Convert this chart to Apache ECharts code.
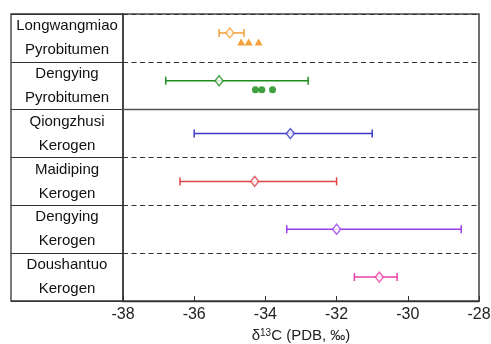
<!DOCTYPE html>
<html>
<head>
<meta charset="utf-8">
<script src="https://cdn.jsdelivr.net/npm/echarts@6/dist/echarts.min.js"></script>
<style>html,body{margin:0;padding:0;background:#fff;}#c{width:491px;height:344px;}</style>
</head>
<body>
<div id="c"></div>
<script>
// ---- data ----
const categories = ['Longwangmiao\nPyrobitumen', 'Dengying\nPyrobitumen', 'Qiongzhusi\nKerogen', 'Maidiping\nKerogen', 'Dengying\nKerogen', 'Doushantuo\nKerogen'];
const meanValues = [-35.0, -35.3, -33.3, -34.3, -32.0, -30.8];
const lowValues  = [-35.3, -36.8, -36.0, -36.4, -33.4, -31.5];
const highValues = [-34.6, -32.8, -31.0, -32.0, -28.5, -30.3];
const longwangmiaoSamples = [-34.68, -34.47, -34.19];
const dengyingSamples = [-34.28, -34.1, -33.8];
const xTicks = [-38, -36, -34, -32, -30, -28];
const pyrobitumenRows = 2;

// ---- styles ----
const colors = ['#F4A03A', '#1E8C1E', '#3B3BC8', '#E04444', '#9A3DEE', '#E840A8'];
const barOffsets = [-5, -5, 0, 0, 0, 0];
const triangleColor = '#F28A0C';
const dotColor = '#118A11';
const FONT = 'Liberation Sans, Arial, sans-serif';

const chart = echarts.init(document.getElementById('c'), null, {renderer: 'canvas'});

const barData = categories.map((c, i) => [i, lowValues[i], highValues[i]]);
const meanData = categories.map((c, i) => ({
  value: [meanValues[i], i],
  symbolOffset: [0, barOffsets[i]],
  itemStyle: {color: '#fff', borderColor: colors[i], borderWidth: 1.5}
}));

chart.setOption({
  animation: false,
  grid: [
    {left: 123, top: 14, right: 12, bottom: 43, show: true, containLabel: false, outerBoundsMode: 'none', borderColor: '#4a4a4a', borderWidth: 1.6, backgroundColor: 'transparent'},
    {left: 11, top: 14, width: 112, height: 287, show: true, containLabel: false, outerBoundsMode: 'none', borderColor: '#333', borderWidth: 1.3, backgroundColor: 'transparent'}
  ],
  xAxis: [
    {
      type: 'value', gridIndex: 0, position: 'bottom', min: xTicks[0], max: xTicks[xTicks.length - 1], interval: 2,
      axisLine: {show: true, onZero: false, lineStyle: {color: '#333', width: 1.3}},
      axisTick: {show: true, inside: true, length: 5, lineStyle: {color: '#333'}},
      axisLabel: {fontSize: 16, color: '#222', fontFamily: FONT, margin: 6},
      splitLine: {show: false},
      name: '{d|δ}{s|13}{d|C (PDB, ‰)}',
      nameLocation: 'middle', nameGap: 20,
      nameTextStyle: {
        fontFamily: FONT, color: '#222',
        rich: {d: {fontSize: 15, fontFamily: FONT, color: '#222'}, s: {fontSize: 10, fontFamily: FONT, color: '#222', verticalAlign: 'bottom', padding: [0, 0, 6, 0]}}
      }
    },
    {type: 'value', gridIndex: 1, show: false, min: 0, max: 1, axisLine: {onZero: false}}
  ],
  yAxis: [
    {
      type: 'category', gridIndex: 0, data: categories, inverse: true,
      axisLine: {show: false, onZero: false},
      axisTick: {show: false},
      axisLabel: {interval: 0, showMinLabel: true, showMaxLabel: true, hideOverlap: false, margin: 56, align: 'center', verticalAlign: 'middle', fontSize: 15, lineHeight: 24, color: '#111', fontFamily: FONT},
      splitLine: {show: true, lineStyle: {color: '#333', width: 1.2, type: [5, 3.5]}}
    },
    {type: 'value', gridIndex: 0, show: false, min: 0, max: categories.length, inverse: true, axisLine: {onZero: false}},
    {
      type: 'category', gridIndex: 1, data: categories, inverse: true,
      axisLine: {show: false, onZero: false}, axisTick: {show: false}, axisLabel: {show: false},
      splitLine: {show: true, lineStyle: {color: '#333', width: 1.2, type: 'solid'}}
    }
  ],
  series: [
    {
      type: 'scatter', xAxisIndex: 0, yAxisIndex: 1, data: [], silent: true,
      markLine: {
        silent: true, symbol: 'none', label: {show: false},
        lineStyle: {color: '#555', width: 1.4, type: 'solid'},
        data: [{yAxis: pyrobitumenRows}]
      }
    },
    {
      type: 'custom', xAxisIndex: 0, yAxisIndex: 0, z: 3,
      data: barData,
      encode: {x: [1, 2], y: 0},
      renderItem: function (params, api) {
        const idx = api.value(0);
        const a = api.coord([api.value(1), idx]);
        const b = api.coord([api.value(2), idx]);
        const y = a[1] + barOffsets[idx];
        const cap = 4;
        const style = {stroke: colors[idx], lineWidth: 1.5};
        return {
          type: 'group',
          children: [
            {type: 'line', shape: {x1: a[0], y1: y, x2: b[0], y2: y}, style: style},
            {type: 'line', shape: {x1: a[0], y1: y - cap, x2: a[0], y2: y + cap}, style: style},
            {type: 'line', shape: {x1: b[0], y1: y - cap, x2: b[0], y2: y + cap}, style: style}
          ]
        };
      }
    },
    {
      type: 'scatter', xAxisIndex: 0, yAxisIndex: 0, z: 4,
      symbol: 'diamond', symbolSize: [8, 10],
      data: meanData
    },
    {
      type: 'scatter', xAxisIndex: 0, yAxisIndex: 0, z: 4,
      symbol: 'triangle', symbolSize: [8, 7], symbolOffset: [0, 4],
      itemStyle: {color: triangleColor},
      data: longwangmiaoSamples.map(v => [v, 0])
    },
    {
      type: 'scatter', xAxisIndex: 0, yAxisIndex: 0, z: 4,
      symbol: 'circle', symbolSize: 7, symbolOffset: [0, 4],
      itemStyle: {color: dotColor},
      data: dengyingSamples.map(v => [v, 1])
    }
  ]
});
</script>
</body>
</html>
